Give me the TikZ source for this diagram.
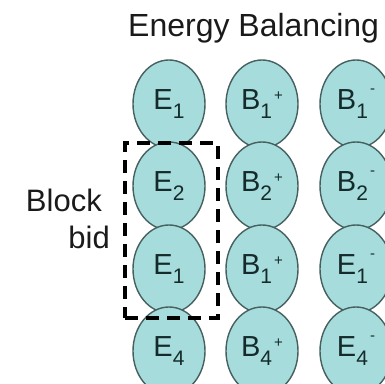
\documentclass[tikz,border=0pt]{standalone}
\usepackage{fontspec}
\setmainfont{Liberation Sans}
\usetikzlibrary{shapes.geometric}
\definecolor{cfill}{HTML}{A6DCDC}
\definecolor{cline}{HTML}{46605F}
\definecolor{ctext}{HTML}{152B2B}
\definecolor{ttext}{HTML}{1A1A1A}
\newcommand\lblsub[2]{#1\raisebox{-9pt}{\fontsize{21}{21}\selectfont #2}}
\newcommand\lblplus[2]{#1\raisebox{-9pt}{\fontsize{21}{21}\selectfont #2}\hspace{2pt}\raisebox{9pt}{\fontsize{15}{15}\selectfont +}}
\newcommand\lblminus[2]{#1\raisebox{-9pt}{\fontsize{21}{21}\selectfont #2}\hspace{2pt}\raisebox{16pt}{\fontsize{15}{15}\selectfont -}}
\tikzset{
  ball/.style={ellipse, draw=cline, fill=cfill, line width=1.4pt, minimum width=72pt, minimum height=88pt, inner sep=0pt, text=ctext, font=\fontsize{29}{29}\selectfont},
  lbl/.style={text=ttext, inner sep=0pt},
  bidbox/.style={draw=black, line width=3.5pt, dash pattern=on 13pt off 8pt, minimum width=93pt, minimum height=175pt, inner sep=0pt}
}
\begin{document}
\begin{tikzpicture}[x=1pt,y=1pt]
\useasboundingbox (0,0) rectangle (385,383);
\node[lbl, anchor=base west, font=\fontsize{32}{32}\selectfont] (title) at (128,346) {Energy Balancing};
% column 1
\node[ball] (e1) at (169,279) {\lblsub{E}{1}};
\node[ball] (e2) at (169,197) {\lblsub{E}{2}};
\node[ball] (e1b) at (169,114) {\lblsub{E}{1}};
\node[ball] (e4) at (169,32) {\lblsub{E}{4}};
% column 2
\node[ball] (b1p) at (262,279) {\lblplus{B}{1}};
\node[ball] (b2p) at (262,197) {\lblplus{B}{2}};
\node[ball] (b1pb) at (262,114) {\lblplus{B}{1}};
\node[ball] (b4p) at (262,32) {\lblplus{B}{4}};
% column 3
\node[ball] (b1m) at (356,279) {\lblminus{B}{1}};
\node[ball] (b2m) at (356,197) {\lblminus{B}{2}};
\node[ball] (e1m) at (356,114) {\lblminus{E}{1}};
\node[ball] (e4m) at (356,32) {\lblminus{E}{4}};
% block bid box
\node[bidbox] (box) at (171.5,152.5) {};
\node[lbl, anchor=base east, font=\fontsize{31}{31}\selectfont] (block) at (102,171) {Block};
\node[lbl, anchor=base east, font=\fontsize{31}{31}\selectfont] (bid) at (110,135) {bid};
\end{tikzpicture}
\end{document}
